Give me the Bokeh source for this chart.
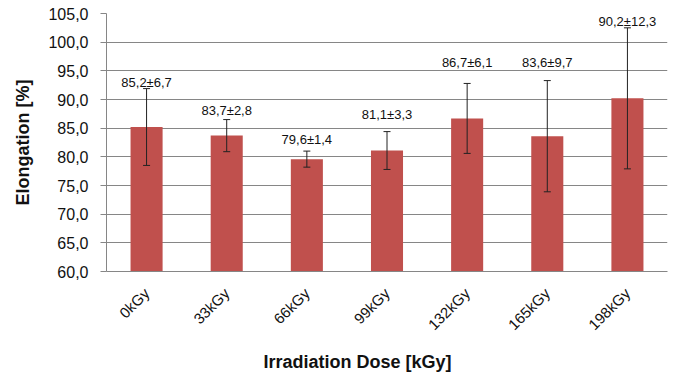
from bokeh.plotting import figure
from bokeh.models import ColumnDataSource, Whisker, FixedTicker, LabelSet, Title
from bokeh.core.properties import value
from bokeh.embed import file_html
from bokeh.resources import INLINE
import math

doses = ["0kGy", "33kGy", "66kGy", "99kGy", "132kGy", "165kGy", "198kGy"]
elongation = [85.2, 83.7, 79.6, 81.1, 86.7, 83.6, 90.2]
std_dev = [6.7, 2.8, 1.4, 3.3, 6.1, 9.7, 12.3]
label_y = [93.0, 88.1, 83.1, 87.3, 96.5, 96.5, 103.6]
y_ticks = [60, 65, 70, 75, 80, 85, 90, 95, 100, 105]
y_tick_labels = ["60,0", "65,0", "70,0", "75,0", "80,0", "85,0", "90,0", "95,0", "100,0", "105,0"]

def fmt(v):
    return ("%.1f" % v).replace(".", ",")

labels = [fmt(m) + "\u00b1" + fmt(s) for m, s in zip(elongation, std_dev)]
upper = [m + s for m, s in zip(elongation, std_dev)]
lower = [m - s for m, s in zip(elongation, std_dev)]

src = ColumnDataSource(dict(x=doses, top=elongation, upper=upper, lower=lower,
                            ly=label_y, text=labels))

FONT = "Liberation Sans"
GRID = "#868686"

p = figure(x_range=doses, y_range=(60, 105), width=675, height=379,
           output_backend="svg", toolbar_location=None,
           min_border_left=106, min_border_right=8, min_border_top=13,
           min_border_bottom=107)
p.outline_line_color = None
p.background_fill_color = "white"
p.border_fill_color = "white"

p.vbar(x="x", top="top", bottom=60, width=0.4, source=src,
       fill_color="#C0504D", line_color=None)

w = Whisker(base="x", upper="upper", lower="lower", source=src,
            line_color="#222222", line_width=1, level="overlay")
w.upper_head.size = 7
w.lower_head.size = 7
w.upper_head.line_color = "#222222"
w.lower_head.line_color = "#222222"
p.add_layout(w)

p.add_layout(LabelSet(x="x", y="ly", text="text", source=src,
                      text_align="center", text_baseline="middle",
                      text_font=value(FONT), text_font_size="13px",
                      text_color="#111111"))

p.yaxis.ticker = FixedTicker(ticks=y_ticks)
p.yaxis.major_label_overrides = {t: l for t, l in zip(y_ticks, y_tick_labels)}
p.yaxis.major_label_text_font = FONT
p.yaxis.major_label_text_font_size = "16px"
p.yaxis.major_label_text_color = "#111111"
p.yaxis.major_tick_out = 6
p.yaxis.major_tick_in = 0
p.yaxis.minor_tick_line_color = None
p.yaxis.major_tick_line_color = GRID
p.yaxis.axis_line_color = GRID
p.yaxis.major_label_standoff = 12
p.yaxis.axis_label = "Elongation [%]"
p.yaxis.axis_label_text_font = FONT
p.yaxis.axis_label_text_font_size = "18px"
p.yaxis.axis_label_text_font_style = "bold"
p.yaxis.axis_label_text_color = "#111111"
p.yaxis.axis_label_standoff = 12

p.xaxis.major_label_orientation = math.pi / 4
p.xaxis.major_label_text_font = FONT
p.xaxis.major_label_text_font_size = "15px"
p.xaxis.major_label_text_color = "#111111"
p.xaxis.major_tick_line_color = None
p.xaxis.minor_tick_line_color = None
p.xaxis.axis_line_color = GRID
p.xaxis.major_label_standoff = 13

p.ygrid.grid_line_color = GRID
p.ygrid.grid_line_width = 1
p.xgrid.grid_line_color = None

p.add_layout(Title(text="Irradiation Dose [kGy]", align="left", offset=157,
                   standoff=15, text_font=FONT, text_font_size="18px",
                   text_font_style="bold", text_color="#111111"), "below")

open("out.html", "w").write(file_html(p, INLINE))
